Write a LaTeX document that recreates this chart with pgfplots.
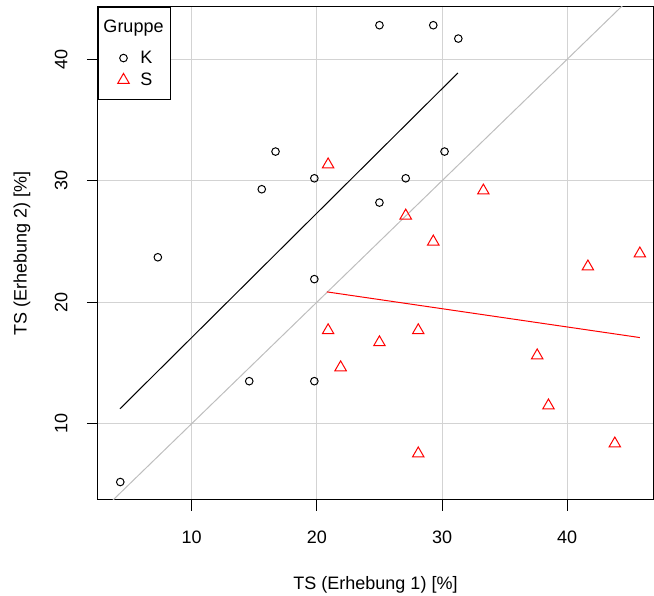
\documentclass[border=0pt]{standalone}
\usepackage{fontspec}
\setmainfont{Liberation Sans}
\usepackage{pgfplots}
\pgfplotsset{compat=1.18}
\definecolor{gridgray}{HTML}{D3D3D3}
\definecolor{rgray}{HTML}{BEBEBE}
\pgfplotsset{
  legK/.style={legend image code/.code={\path[draw=none, fill=none] (-17pt,-6.5pt) rectangle (16pt,16.5pt);
    \draw[##1, only marks] plot coordinates {(8pt,0pt)};}},
  legS/.style={legend image code/.code={\path[draw=none, fill=none] (-17pt,-7.5pt) rectangle (16pt,6.5pt);
    \draw[##1, only marks] plot coordinates {(8pt,0pt)};}},
}
\begin{document}
\begin{tikzpicture}
\path[use as bounding box] (-98pt,-96pt) rectangle (556pt,500pt);
\begin{axis}[
  scale only axis, width=555pt, height=493pt,
  xmin=2.52, xmax=46.85, ymin=3.72, ymax=44.3,
  xtick={10,20,30,40}, ytick={10,20,30,40},
  xticklabels={10,20,30,40}, yticklabels={10,20,30,40},
  tick pos=left,
  tick align=outside, major tick length=11pt,
  grid=major, major grid style={color=gridgray, line width=1pt},
  axis line style={line width=1pt},
  every tick/.style={black, line width=1pt},
  ticklabel style={font=\fontsize{18}{21}\selectfont},
  xticklabel style={anchor=base},
  xticklabel shift=32.5pt,
  yticklabel style={rotate=90, anchor=base},
  yticklabel shift=19.5pt,
  xlabel={TS (Erhebung 1) [\%]},
  ylabel={TS (Erhebung 2) [\%]},
  label style={font=\fontsize{18}{21}\selectfont},
  xlabel style={at={(axis description cs:0.5,-0.1724)}, anchor=center},
  ylabel style={at={(axis description cs:-0.137,0.5)}, anchor=center},
  legend style={at={(axis description cs:0,1)}, anchor=north west,
    draw=black, line width=1pt, fill=white,
    inner xsep=0pt, inner ysep=12pt, row sep=8pt, column sep=9pt,
    font=\fontsize{18}{21}\selectfont, nodes={inner sep=0pt}},
  legend cell align=left,
]
\addlegendimage{empty legend}
\addlegendentry{\hspace{-37pt}Gruppe\rule{7pt}{0pt}}

\addplot[rgray, line width=1pt, forget plot] coordinates {(0,0) (50,50)};

\addplot[only marks, mark=o, mark size=3.8pt, black, line width=1pt, legK] coordinates {
(25.0,42.8) (29.3,42.8) (31.3,41.7) (16.7,32.4) (15.6,29.3) (19.8,30.2)
(30.2,32.4) (27.1,30.2) (25.0,28.2) (7.3,23.7) (19.8,21.9) (14.6,13.5)
(19.8,13.5) (4.3,5.2)};
\addlegendentry{K}

\addplot[only marks, mark=triangle, mark size=6.6pt, red, line width=1pt, legS] coordinates {
(20.9,31.33) (33.3,29.18) (27.1,27.12) (29.3,24.98) (41.65,22.93) (45.8,24.0)
(37.6,15.61) (38.5,11.49) (43.8,8.36) (28.1,7.54) (20.9,17.68) (28.1,17.68)
(25.0,16.69) (21.9,14.63)};
\addlegendentry{S}

\addplot[black, line width=1pt, forget plot] coordinates {(4.27,11.22) (31.27,38.87)};
\addplot[red, line width=1pt, forget plot] coordinates {(20.8,20.85) (45.8,17.09)};
\end{axis}
\end{tikzpicture}
\end{document}
